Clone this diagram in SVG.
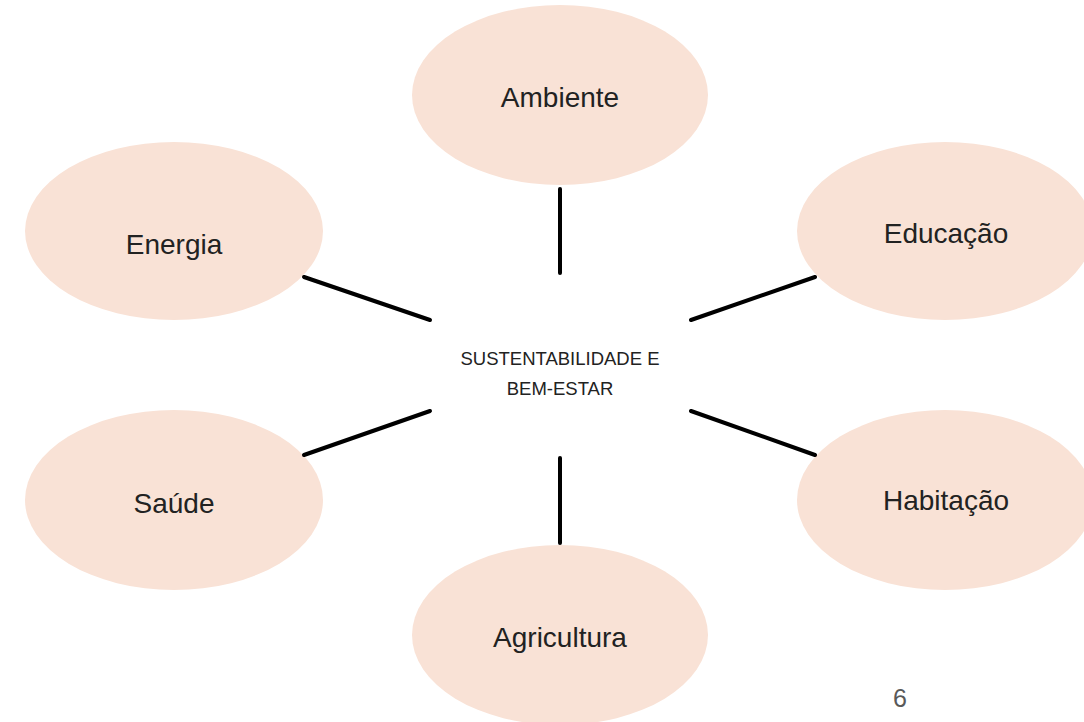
<svg xmlns="http://www.w3.org/2000/svg" width="1084" height="722" viewBox="0 0 1084 722">
<style>
.node{fill:#F9E2D6;stroke:none}
.lbl{font-family:"Liberation Sans",Arial,sans-serif;font-size:28px;fill:#222;text-anchor:middle}
.ctr{font-family:"Liberation Sans",Arial,sans-serif;font-size:18.5px;fill:#222;text-anchor:middle}
.conn line{stroke:#000;stroke-width:4;stroke-linecap:round}
</style>
<rect width="1084" height="722" fill="#fff"/>
<g id="ambiente"><ellipse class="node" cx="560" cy="95" rx="148" ry="90"/><text class="lbl" x="560" y="107">Ambiente</text></g>
<g id="energia"><ellipse class="node" cx="174" cy="231" rx="149" ry="89"/><text class="lbl" x="174" y="254">Energia</text></g>
<g id="educacao"><ellipse class="node" cx="945" cy="231" rx="148" ry="89"/><text class="lbl" x="946" y="243">Educação</text></g>
<g id="saude"><ellipse class="node" cx="174" cy="500" rx="149" ry="90"/><text class="lbl" x="174" y="513">Saúde</text></g>
<g id="habitacao"><ellipse class="node" cx="945" cy="500" rx="148" ry="90"/><text class="lbl" x="946" y="510">Habitação</text></g>
<g id="agricultura"><ellipse class="node" cx="560" cy="635" rx="148" ry="90"/><text class="lbl" x="560" y="647">Agricultura</text></g>
<g id="centro"><text class="ctr" x="560" y="365">SUSTENTABILIDADE E</text><text class="ctr" x="560" y="395">BEM-ESTAR</text></g>
<g id="connectors" class="conn">
<line x1="560" y1="189" x2="560" y2="273"/>
<line x1="560" y1="458" x2="560" y2="543"/>
<line x1="304" y1="277" x2="430" y2="320"/>
<line x1="691" y1="320" x2="815" y2="277"/>
<line x1="304" y1="455" x2="430" y2="411"/>
<line x1="691" y1="411" x2="815" y2="455"/>
</g>
<text x="900" y="707" font-family="Liberation Sans,Arial,sans-serif" font-size="25" fill="#595959" text-anchor="middle">6</text>
</svg>
